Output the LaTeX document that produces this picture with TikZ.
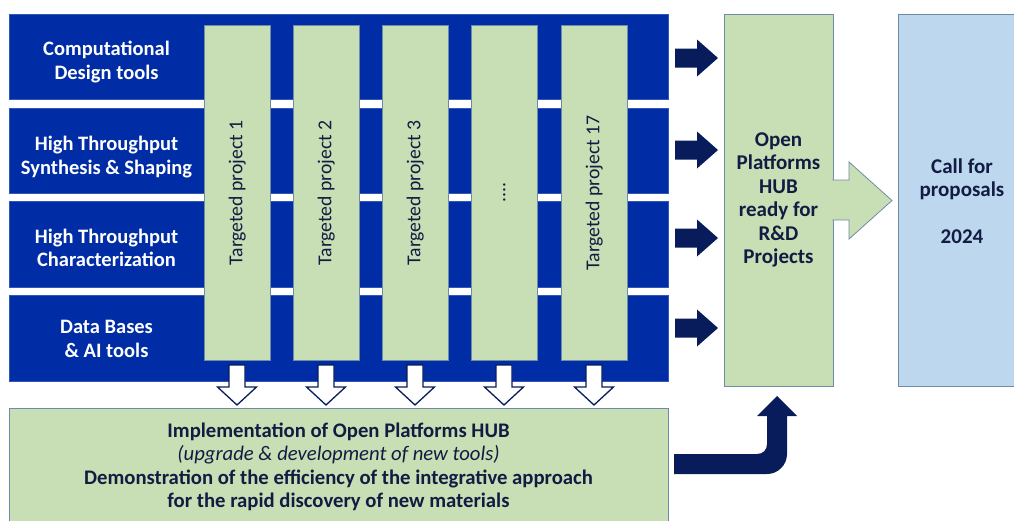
\documentclass[tikz,border=0pt]{standalone}
\usepackage{fontspec}
\setmainfont{Carlito}
\definecolor{bandblue}{RGB}{0,45,165}
\definecolor{pgreen}{RGB}{200,222,180}
\definecolor{pblue}{RGB}{189,215,238}
\definecolor{navy}{RGB}{8,28,92}
\definecolor{tnavy}{RGB}{18,28,66}
\definecolor{edge}{RGB}{110,140,170}
\tikzset{
  band/.style={fill=bandblue, draw=bandblue!80!white, line width=0.6pt, anchor=north west, minimum width=659pt, inner sep=0pt},
  bandtext/.style={text=white, font=\fontsize{20.5}{23.5}\selectfont\bfseries, align=center, inner sep=0pt},
  colbox/.style={fill=pgreen, draw=edge, line width=0.6pt, anchor=north west, minimum width=66pt, minimum height=335pt, inner sep=0pt},
  coltext/.style={text=tnavy, font=\fontsize{19.7}{22}\selectfont, rotate=90, inner sep=0pt},
  bigbox/.style={draw=edge, line width=0.8pt, anchor=north west, inner sep=0pt},
  boxtext/.style={text=tnavy, font=\fontsize{21}{23.5}\selectfont\bfseries, align=center, inner sep=0pt},
  bottext/.style={text=tnavy, font=\fontsize{20.7}{23.5}\selectfont\bfseries, align=center, inner sep=0pt},
  rarrow/.style={fill=navy},
  darrow/.style={draw=navy, fill=white, line width=1.3pt, line join=miter},
}
\begin{document}
\begin{tikzpicture}[x=1pt,y=-1pt]
\useasboundingbox (0,0) rectangle (1014,520);
% bands
\node[band, minimum height=85pt] (b1) at (9,14) {};
\node[band, minimum height=85pt] (b2) at (9,108) {};
\node[band, minimum height=86pt] (b3) at (9,201) {};
\node[band, minimum height=86pt] (b4) at (9,295) {};
\node[bandtext] (bt1) at (106.5,62) {Computational\\Design tools};
\node[bandtext] (bt2) at (106.5,157) {High Throughput\\Synthesis \& Shaping};
\node[bandtext] (bt3) at (106.5,248) {High Throughput\\Characterization};
\node[bandtext] (bt4) at (106.5,339) {Data Bases\\\& AI tools};
% columns
\node[colbox] (c1) at (204,25) {};
\node[colbox] (c2) at (293,25) {};
\node[colbox] (c3) at (382,25) {};
\node[colbox] (c4) at (471,25) {};
\node[colbox] (c5) at (561,25) {};
\node[coltext] (t1) at (c1.center) {Targeted project 1};
\node[coltext] (t2) at (c2.center) {Targeted project 2};
\node[coltext] (t3) at (c3.center) {Targeted project 3};
\node[coltext] (t4) at (c4.center) {....};
\node[coltext] (t5) at (c5.center) {Targeted project 17};
% down arrows
\foreach \x in {237,326,415,504,594}{
  \draw[darrow] ({\x-8},365) -- ({\x+8},365) -- ({\x+8},387) -- ({\x+19.5},387) -- (\x,405) -- ({\x-19.5},387) -- ({\x-8},387) -- cycle;
}
% bottom box
\node[bigbox, fill=pgreen, minimum width=659pt, minimum height=116pt] (bot) at (9,408) {};
\node[bottext] (bott) at (338.5,467) {Implementation of Open Platforms HUB\\
{\mdseries\itshape (upgrade \& development of new tools)}\\
Demonstration of the efficiency of the integrative approach\\
for the rapid discovery of new materials};
% right arrows
\foreach \y in {58,150,238,328}{
  \fill[rarrow] (675,{\y-9.5}) -- (697,{\y-9.5}) -- (697,{\y-18.5}) -- (718,\y) -- (697,{\y+18.5}) -- (697,{\y+9.5}) -- (675,{\y+9.5}) -- cycle;
}
% hub
\node[bigbox, fill=pgreen, minimum width=109pt, minimum height=372pt] (hub) at (724,14) {};
\node[boxtext] (hubt) at (778.5,200) {Open\\Platforms\\HUB\\ready for\\R\&D\\Projects};
% call box
\node[bigbox, fill=pblue, minimum width=130pt, minimum height=372pt] (call) at (898,14) {};
\node[boxtext] (callt) at (962,201) {Call for\\proposals\\[23.5pt]2024};
% big arrow hub -> call
\filldraw[fill=pgreen, draw=edge, line width=0.8pt, line join=miter] (832.4,180) -- (849,180) -- (849,162) -- (892,200.5) -- (849,239) -- (849,220) -- (832.4,220);
% curved arrow bottom -> hub
\fill[navy] (674,454) -- (757,454) .. controls (763,454) and (767,450) .. (767,444) -- (767,416) -- (757,416) -- (777,396) -- (797,416) -- (787,416) -- (787,454) .. controls (787,465) and (778,474) .. (767,474) -- (674,474) -- cycle;
\end{tikzpicture}
\end{document}
